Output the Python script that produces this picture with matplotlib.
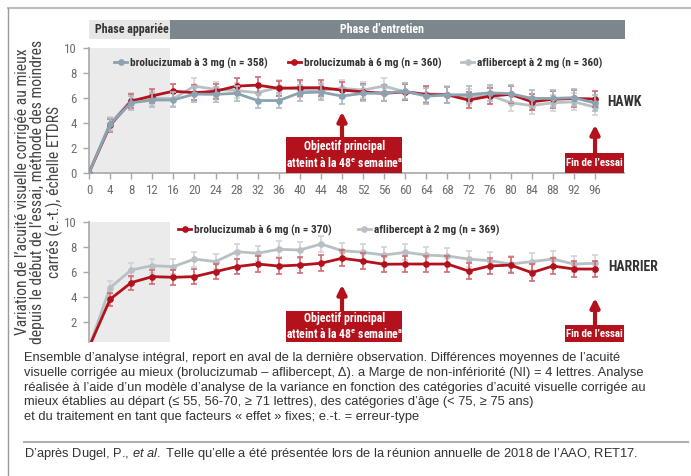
import matplotlib
matplotlib.use("Agg")
import matplotlib.pyplot as plt
from matplotlib.patches import Rectangle
from matplotlib.lines import Line2D
from matplotlib.textpath import TextPath
from matplotlib.font_manager import FontProperties
from matplotlib import font_manager

# --- data ---------------------------------------------------------------
weeks = [0, 4, 8, 12, 16, 20, 24, 28, 32, 36, 40, 44, 48,
         52, 56, 60, 64, 68, 72, 76, 80, 84, 88, 92, 96]

# HAWK
hawk_bro3 = [0, 3.9, 5.62, 5.84, 5.85, 6.32, 6.3, 6.38, 5.8, 5.8, 6.43, 6.48, 6.16,
             6.38, 6.4, 6.55, 6.15, 6.25, 6.27, 6.42, 6.35, 5.97, 5.97, 6.03, 5.6]
hawk_bro6 = [0, 3.8, 5.75, 6.18, 6.55, 6.43, 6.55, 6.96, 7.04, 6.78, 6.83, 6.83, 6.64,
             6.5, 6.38, 6.5, 6.28, 6.26, 5.84, 6.15, 6.3, 5.7, 5.9, 5.97, 5.92]
hawk_afl = [0, 3.95, 5.85, 6.0, 5.95, 6.96, 6.7, 6.6, 6.43, 6.86, 6.7, 6.64, 6.78,
            6.65, 6.96, 6.5, 6.35, 6.28, 6.1, 6.22, 5.62, 5.4, 5.62, 5.7, 5.27]
hawk_se = [0, 0.52, 0.55, 0.58, 0.6, 0.62, 0.62, 0.62, 0.63, 0.63, 0.63, 0.64, 0.64,
           0.64, 0.65, 0.65, 0.65, 0.65, 0.66, 0.66, 0.66, 0.66, 0.66, 0.67, 0.67]

# HARRIER
harrier_bro6 = [0, 3.84, 5.17, 5.65, 5.6, 5.65, 6.05, 6.45, 6.66, 6.5, 6.58, 6.72, 7.12,
                6.9, 6.64, 6.66, 6.66, 6.66, 6.1, 6.5, 6.58, 5.97, 6.5, 6.26, 6.26]
harrier_afl = [0, 4.77, 6.18, 6.53, 6.45, 7.06, 6.85, 7.65, 7.52, 7.84, 7.78, 8.26, 7.73,
               7.6, 7.38, 7.6, 7.38, 7.3, 7.06, 6.93, 6.66, 6.85, 7.06, 6.66, 6.72]
harrier_se = [0, 0.5, 0.55, 0.57, 0.58, 0.6, 0.62, 0.62, 0.62, 0.63, 0.63, 0.64, 0.64,
              0.64, 0.65, 0.65, 0.65, 0.65, 0.66, 0.66, 0.66, 0.66, 0.66, 0.67, 0.67]

x_ticks = list(range(0, 97, 4))
y_ticks_hawk = [0, 2, 4, 6, 8, 10]
y_ticks_harrier = [2, 4, 6, 8, 10]

hawk_labels = ["brolucizumab à 3 mg (n = 358)", "brolucizumab à 6 mg (n = 360)",
               "aflibercept à 2 mg (n = 360)"]
harrier_labels = ["brolucizumab à 6 mg (n = 370)", "aflibercept à 2 mg (n = 369)"]

# --- fonts --------------------------------------------------------------
# the original uses a DIN-like condensed face; take the narrowest one around
entries = font_manager.fontManager.ttflist
narrow = None
for pref in ["Liberation Sans Narrow", "Roboto Condensed", "Noto Sans Condensed",
             "Open Sans Condensed", "DejaVu Sans Condensed"]:
    if any(f.name == pref for f in entries):
        narrow = dict(family=pref, stretch="normal")
        break
if narrow is None:
    for pref in ["Noto Sans", "DejaVu Sans", "Open Sans", "Roboto"]:
        if any(f.name == pref and f.stretch == "condensed" for f in entries):
            narrow = dict(family=pref, stretch="condensed")
            break
if narrow is None:
    narrow = dict(family="Roboto", stretch="normal")

REG = "Liberation Sans"
plt.rcParams["font.family"] = [narrow["family"], "DejaVu Sans"]
plt.rcParams["font.stretch"] = narrow["stretch"]
plt.rcParams["mathtext.fontset"] = "custom"
plt.rcParams["mathtext.rm"] = REG
plt.rcParams["mathtext.it"] = REG + ":italic"
plt.rcParams["mathtext.bf"] = REG + ":bold"

DPI = 100


def fit(text, px, weight="normal"):
    """font size (pt) that makes text about px pixels wide"""
    fp = FontProperties(family=narrow["family"], stretch=narrow["stretch"],
                        weight=weight, size=10)
    w = TextPath((0, 0), text, prop=fp).get_extents().width
    return 10 * px / (w * DPI / 72)


FS_LEG = fit(hawk_labels[0], 137, "bold")
FS_NAME = fit("HAWK", 34, "bold")
FS_PHASE = fit("Phase appariée", 72, "bold")
FS_BOX = fit("Objectif principal", 80, "bold")
FS_FIN = fit("Fin de l’essai", 56, "bold")
FS_TICK = fit("10", 11)
FS_YLAB = fit("Variation de l’acuité visuelle corrigée au mieux", 285)

# --- style --------------------------------------------------------------
RED = "#b3121d"
BLUE = "#8ba3b0"
GREY = "#b9c0c4"
AXIS = "#a8a8a8"
TICK_TXT = "#6f6f6f"

W, H = 691, 476
fig = plt.figure(figsize=(W / DPI, H / DPI), dpi=DPI)


def fx(px):
    return px / W


def fy(py):
    return 1 - py / H


X_MAX = 101.5
PAIRED_END = 15.4


def setup_axes(ax, ymin, yticks, show_x):
    ax.set_xlim(0, X_MAX)
    ax.set_ylim(ymin, 10)
    ax.axvspan(0, PAIRED_END, color="#ebebeb", zorder=0, lw=0)
    for s in ["top", "right"]:
        ax.spines[s].set_visible(False)
    ax.spines["left"].set_color(AXIS)
    ax.spines["left"].set_linewidth(1.2)
    ax.spines["bottom"].set_color(AXIS)
    ax.spines["bottom"].set_linewidth(1.2)
    ax.set_yticks(yticks)
    ax.tick_params(axis="y", colors=AXIS, labelcolor=TICK_TXT, labelsize=FS_TICK,
                   length=4, width=1, pad=5)
    if show_x:
        ax.set_xticks(x_ticks)
        ax.tick_params(axis="x", colors=AXIS, labelcolor=TICK_TXT, labelsize=FS_TICK,
                       length=4, width=1, pad=4)
    else:
        ax.spines["bottom"].set_visible(False)
        ax.set_xticks([])


def series(ax, y, se, color, ecolor, z):
    ax.errorbar(weeks, y, yerr=se, color=color, ecolor=ecolor, elinewidth=1.2,
                capsize=2.5, capthick=1.2, lw=2, marker="o", ms=3.8, zorder=z)


def annotate_box(ax, x0, x1, top, ybot, arrow_x, arrow_tip, text, fs):
    ax.add_patch(Rectangle((x0, ybot), x1 - x0, top - ybot, color=RED, lw=0,
                           zorder=6, clip_on=False))
    ax.annotate("", xy=(arrow_x, arrow_tip), xytext=(arrow_x, top),
                arrowprops=dict(arrowstyle="-|>", color=RED, lw=3,
                                mutation_scale=13, shrinkA=0, shrinkB=0),
                zorder=6)
    ax.text((x0 + x1) / 2, (top + ybot) / 2, text, color="white", ha="center",
            va="center", fontsize=fs, fontweight="bold", zorder=7,
            linespacing=1.25)


def handle(color):
    return Line2D([], [], color=color, lw=2, marker="o", ms=3.8)


def legend(ax, handles, labels, x_px, y_frac, gap_px):
    em = FS_LEG * DPI / 72
    ax.legend(handles, labels, loc="center left",
              bbox_to_anchor=((x_px - 89) / 535, y_frac), ncol=len(labels),
              frameon=False, handlelength=13 / em, handletextpad=3 / em,
              columnspacing=gap_px / em,
              prop=dict(family=narrow["family"], stretch=narrow["stretch"],
                        weight="bold", size=FS_LEG),
              labelcolor="#333333", borderpad=0, borderaxespad=0)


goal_text = ("Objectif principal\natteint à la 48$^{\\mathregular{e}}$ "
             "semaine$^{\\mathregular{a}}$")

# --- HAWK ---------------------------------------------------------------
ax1 = fig.add_axes([fx(89), fy(172.7), fx(624 - 89), (172.7 - 48.3) / H])
setup_axes(ax1, 0, y_ticks_hawk, True)
series(ax1, hawk_afl, hawk_se, GREY, "#cfd4d7", 3)
series(ax1, hawk_bro6, hawk_se, RED, "#d36b73", 4)
series(ax1, hawk_bro3, hawk_se, BLUE, "#a9bcc6", 5)
legend(ax1, [handle(BLUE), handle(RED), handle(GREY)], hawk_labels, 114, 0.882, 20)
ax1.text(98.4, 5.68, "HAWK", fontsize=FS_NAME, fontweight="bold", color="#333333",
         va="center", ha="left", clip_on=False)
annotate_box(ax1, 37.4, 59.4, 2.9, 0, 48, 4.9, goal_text, FS_BOX)
annotate_box(ax1, 90.3, X_MAX, 1.58, 0, 96, 3.85, "Fin de l’essai", FS_FIN)

# --- HARRIER ------------------------------------------------------------
ax2 = fig.add_axes([fx(89), fy(342), fx(624 - 89), (342 - 222.3) / H])
setup_axes(ax2, 0.42, y_ticks_harrier, False)
series(ax2, harrier_afl, harrier_se, GREY, "#cfd4d7", 3)
series(ax2, harrier_bro6, harrier_se, RED, "#d36b73", 4)
legend(ax2, [handle(RED), handle(GREY)], harrier_labels, 178, 0.936, 26)
ax2.text(98.5, 6.42, "HARRIER", fontsize=FS_NAME, fontweight="bold", color="#333333",
         va="center", ha="left", clip_on=False)
annotate_box(ax2, 37.4, 59.4, 2.9, 0.42, 48, 5.0, goal_text, FS_BOX)
annotate_box(ax2, 90.3, X_MAX, 1.78, 0.42, 96, 3.94, "Fin de l’essai", FS_FIN)

# --- phase header -------------------------------------------------------
fig.add_artist(Rectangle((fx(89), fy(39)), fx(170 - 89), (39 - 20) / H,
                         transform=fig.transFigure, color="#e6e6e6", lw=0))
fig.add_artist(Rectangle((fx(170), fy(39)), fx(625 - 170), (39 - 20) / H,
                         transform=fig.transFigure, color="#7b878c", lw=0))
fig.text(fx(131.5), fy(29.5), "Phase appariée", ha="center", va="center",
         fontsize=FS_PHASE, fontweight="bold", color="#333333")
fig.text(fx(381.5), fy(29.5), "Phase d’entretien", ha="center", va="center",
         fontsize=FS_PHASE, fontweight="bold", color="white")

# --- y label ------------------------------------------------------------
fig.text(fx(39), fy(191.5),
         "Variation de l’acuité visuelle corrigée au mieux\n"
         "depuis le début de l’essai, méthode des moindres\n"
         "carrés (e.-t.), échelle ETDRS",
         rotation=90, ha="center", va="center", multialignment="center",
         fontsize=FS_YLAB, color="#444444", linespacing=1.0)

# --- frame lines --------------------------------------------------------
fig.add_artist(Line2D([fx(8), 1], [fy(8), fy(8)], transform=fig.transFigure,
                      color="#bdbdbd", lw=1.5))
fig.add_artist(Line2D([fx(8), fx(8)], [fy(8), 0], transform=fig.transFigure,
                      color="#9a9a9a", lw=1))
fig.add_artist(Line2D([fx(24), fx(688)], [fy(442), fy(442)],
                      transform=fig.transFigure, color="#b0b0b0", lw=1.5))

# --- caption ------------------------------------------------------------
caption = ("Ensemble d’analyse intégral, report en aval de la dernière observation. "
           "Différences moyennes de l’acuité\n"
           "visuelle corrigée au mieux (brolucizumab – aflibercept, Δ). a Marge de "
           "non-infériorité (NI) = 4 lettres. Analyse\n"
           "réalisée à l’aide d’un modèle d’analyse de la variance en fonction des "
           "catégories d’acuité visuelle corrigée au\n"
           "mieux établies au départ (≤ 55, 56-70, ≥ 71 lettres), des catégories "
           "d’âge (< 75, ≥ 75 ans)\n"
           "et du traitement en tant que facteurs « effet » fixes; e.-t. = erreur-type")
fig.text(fx(24), fy(352.5), caption, ha="left", va="top", fontsize=9.3,
         family=[REG, "DejaVu Sans"], stretch="normal", color="#333333",
         linespacing=1.29)
fig.text(fx(24), fy(453.5),
         "D’après Dugel, P., $\\it{et\\ al.}$ Telle qu’elle a été présentée lors de la "
         "réunion annuelle de 2018 de l’AAO, RET17.",
         ha="left", va="center", fontsize=9.3, family=[REG, "DejaVu Sans"],
         stretch="normal", color="#333333")

fig.savefig("out.png", dpi=DPI)
